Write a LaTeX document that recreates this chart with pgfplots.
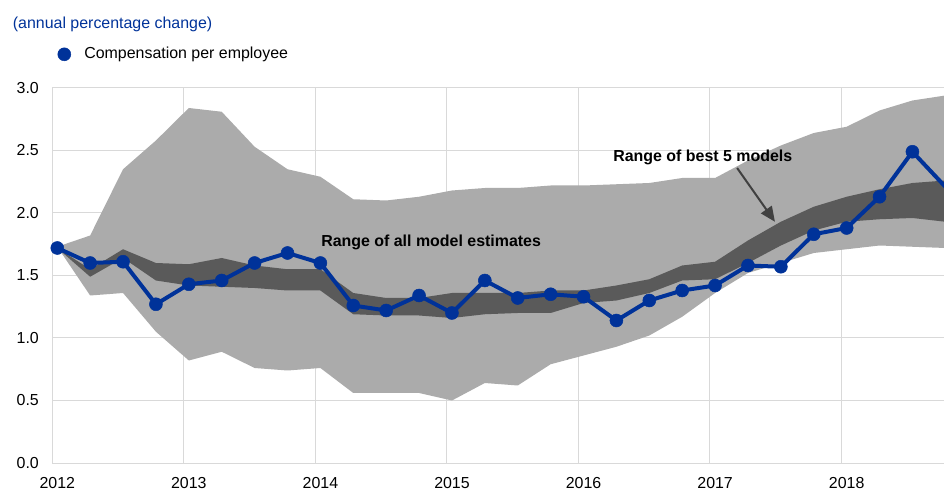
\documentclass[border=0pt]{standalone}
\usepackage{pgfplots}
\pgfplotsset{compat=1.18}
\usepackage{pgfplotstable}
\usepgfplotslibrary{fillbetween}
\usetikzlibrary{arrows.meta}
\usepackage{fontspec}
\setmainfont{Liberation Sans}
\definecolor{ecbblue}{RGB}{0,50,153}
\definecolor{lightband}{RGB}{171,171,171}
\definecolor{darkband}{RGB}{90,90,90}
\definecolor{gridgrey}{RGB}{217,217,217}
\definecolor{arrowgrey}{RGB}{64,64,64}

% i = quarter index (0 = 2012Q1)
\pgfplotstableread{
i  v    au   al   bu   bl
0  1.72 1.73 1.73 1.72 1.72
1  1.60 1.82 1.34 1.55 1.49
2  1.61 2.35 1.36 1.71 1.64
3  1.27 2.58 1.05 1.60 1.46
4  1.43 2.84 0.82 1.59 1.42
5  1.46 2.81 0.89 1.64 1.41
6  1.60 2.53 0.76 1.58 1.40
7  1.68 2.35 0.74 1.55 1.38
8  1.60 2.29 0.76 1.55 1.38
9  1.26 2.11 0.56 1.36 1.19
10 1.22 2.10 0.56 1.32 1.18
11 1.34 2.13 0.56 1.32 1.18
12 1.20 2.18 0.50 1.36 1.16
13 1.46 2.20 0.64 1.36 1.19
14 1.32 2.20 0.62 1.36 1.20
15 1.35 2.22 0.79 1.38 1.20
16 1.33 2.22 0.86 1.38 1.28
17 1.14 2.23 0.93 1.42 1.30
18 1.30 2.24 1.02 1.47 1.36
19 1.38 2.28 1.17 1.58 1.46
20 1.42 2.28 1.36 1.61 1.47
21 1.58 2.42 1.52 1.78 1.60
22 1.57 2.54 1.60 1.93 1.74
23 1.83 2.64 1.68 2.05 1.86
24 1.88 2.69 1.71 2.13 1.93
25 2.13 2.82 1.74 2.19 1.95
26 2.49 2.90 1.73 2.24 1.96
27 2.21 2.94 1.72 2.26 1.93
}\data

\begin{document}
\fontsize{16}{19}\selectfont
\begin{tikzpicture}
\begin{axis}[
  at={(0,0)}, anchor=south west,
  scale only axis, width=892bp, height=375bp,
  xmin=-0.16, xmax=26.96, ymin=0, ymax=3,
  axis line style={draw=none},
  major tick length=0pt,
  tick style={draw=none},
  grid=major,
  grid style={gridgrey, line width=1bp},
  xtick={-0.16,3.84,7.84,11.84,15.84,19.84,23.84},
  xticklabels={2012,2013,2014,2015,2016,2017,2018},
  ytick={0,0.5,1,1.5,2,2.5,3},
  tick label style={font=\fontsize{16}{19}\selectfont, text=black},
  xticklabel style={anchor=base, yshift=-25bp, xshift=5.3bp},
  yticklabel style={anchor=east, inner sep=0pt, xshift=-13bp,
    /pgf/number format/.cd, fixed, fixed zerofill, precision=1, assume math mode=true},
  legend style={draw=none, fill=none, at={(rel axis cs:0,1)}, anchor=west,
    xshift=5.8bp, yshift=33.7bp, inner sep=0pt, outer sep=0pt,
    nodes={inner sep=0pt}, column sep=0pt,
    font=\fontsize{16}{19}\selectfont},
  legend cell align=left,
  legend image code/.code={\path[draw=none, fill=none] (0bp,-6.5bp) rectangle (26.5bp,6.5bp);
    \draw[#1] plot coordinates {(6.5bp,0bp)};},
]
\addplot[name path=au, draw=none, forget plot] table[x=i, y=au]{\data};
\addplot[name path=al, draw=none, forget plot] table[x=i, y=al]{\data};
\addplot[name path=bu, draw=none, forget plot] table[x=i, y=bu]{\data};
\addplot[name path=bl, draw=none, forget plot] table[x=i, y=bl]{\data};
\addplot[fill=lightband, draw=none, forget plot] fill between[of=au and al];
\addplot[fill=darkband, draw=none, forget plot] fill between[of=bu and bl];
\addplot[ecbblue, line width=4bp, mark=*, mark size=6.5bp,
  mark options={solid, fill=ecbblue, line width=0.5bp}, forget plot]
  table[x=i, y=v]{\data};
\addlegendimage{only marks, mark=*, mark size=6.5bp, ecbblue, mark options={fill=ecbblue, line width=0.5bp}}
\addlegendentry{Compensation per employee}
\node[anchor=base west, inner sep=0pt, font=\bfseries\fontsize{16}{19}\selectfont]
  at (axis cs:8.02,1.73) {Range of all model estimates};
\node[anchor=base west, inner sep=0pt, font=\bfseries\fontsize{16}{19}\selectfont]
  at (axis cs:16.90,2.41) {Range of best 5 models};
\draw[arrowgrey, line width=2bp, -{Triangle[length=15bp, width=13bp]}]
  (axis cs:20.67,2.36) -- (axis cs:21.82,1.93);
\end{axis}
\node[anchor=base west, inner sep=0pt, text=ecbblue, font=\fontsize{16}{19}\selectfont]
  at (-39.3bp, 434bp) {(annual percentage change)};
\pgfresetboundingbox
\path[use as bounding box] (-52bp,-27bp) rectangle (892bp,463bp);
\end{tikzpicture}
\end{document}
